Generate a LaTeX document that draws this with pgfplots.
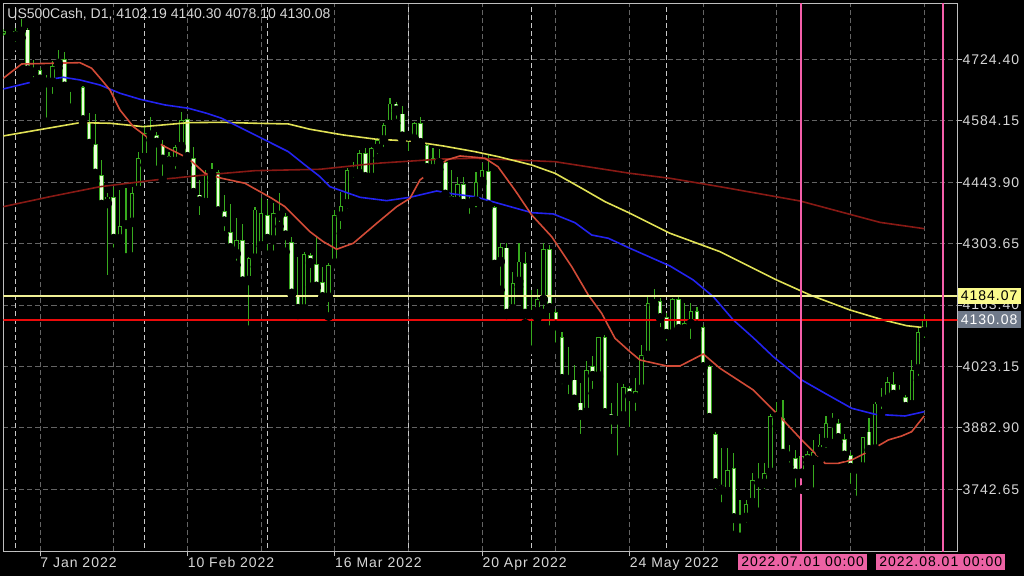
\documentclass[border=0pt]{standalone}
\usepackage{fontspec}
\setmainfont{Liberation Sans}
\newfontfamily\mtfont[LetterSpace=7]{Liberation Sans}
\usepackage{pgfplots}
\usepackage{pgfplotstable}
\pgfplotsset{compat=1.18}

\definecolor{cgreen}{RGB}{55,170,30}
\definecolor{cbody}{RGB}{236,255,220}
\definecolor{mared}{RGB}{210,75,55}
\definecolor{mablue}{RGB}{35,35,240}
\definecolor{mayellow}{RGB}{225,225,85}
\definecolor{madark}{RGB}{135,25,20}
\definecolor{hyellow}{RGB}{240,240,150}
\definecolor{hred}{RGB}{235,10,10}
\definecolor{pinkc}{RGB}{245,95,170}
\definecolor{pinkbox}{RGB}{236,98,164}
\definecolor{ylbox}{RGB}{250,250,140}
\definecolor{grbox}{RGB}{112,122,138}
\definecolor{labelgray}{RGB}{215,215,215}
\definecolor{framegray}{RGB}{190,190,190}
\definecolor{gridgray}{RGB}{100,100,100}
\definecolor{sepgray}{RGB}{200,200,200}

% daily bars, i = bar index (0 = 3 Jan 2022)
\pgfplotstableread{
i o h l c
-2 4782 4793 4779 4790
-1 4781 4785 4757 4776
0 4777 4797 4755 4790
1 4790 4816 4774 4793
2 4793 4797 4696 4699
3 4701 4723 4674 4697
4 4701 4705 4660 4678
5 4678 4690 4582 4671
6 4672 4720 4636 4710
7 4714 4746 4705 4726
8 4726 4742 4655 4662
9 4666 4668 4614 4661
10 4668 4674 4648 4662
11 4662 4664 4580 4585
12 4581 4602 4527 4531
13 4531 4600 4447 4463
14 4461 4495 4388 4392
15 4395 4420 4222 4412
16 4410 4433 4285 4314
17 4314 4426 4300 4344
18 4348 4430 4272 4352
19 4352 4434 4274 4420
20 4425 4514 4411 4499
21 4500 4575 4483 4557
22 4557 4593 4540 4553
23 4553 4558 4472 4534
24 4530 4540 4449 4495
25 4504 4514 4472 4491
26 4491 4529 4465 4524
27 4525 4604 4522 4586
28 4588 4591 4483 4501
29 4499 4525 4400 4419
30 4416 4449 4359 4400
31 4397 4472 4388 4463
32 4462 4489 4449 4470
33 4468 4473 4375 4377
34 4378 4415 4323 4354
35 4330 4394 4290 4293
36 4280 4362 4255 4313
37 4312 4348 4215 4217
38 4219 4274 4107 4272
39 4270 4387 4251 4382
40 4298 4408 4297 4374
41 4369 4403 4278 4314
42 4312 4397 4278 4374
43 4375 4420 4343 4367
44 4367 4374 4285 4322
45 4308 4320 4187 4189
46 4186 4274 4141 4154
47 4154 4284 4153 4280
48 4278 4282 4205 4259
49 4257 4320 4202 4205
50 4217 4251 4160 4181
51 4181 4260 4137 4255
52 4259 4380 4257 4369
53 4366 4422 4327 4390
54 4394 4476 4373 4472
55 4472 4490 4445 4466
56 4463 4518 4460 4511
57 4511 4522 4449 4455
58 4455 4525 4447 4522
59 4521 4545 4499 4540
60 4540 4580 4515 4575
61 4575 4636 4571 4624
62 4624 4628 4579 4607
63 4601 4617 4542 4548
64 4549 4560 4505 4555
65 4542 4582 4530 4579
66 4579 4593 4514 4533
67 4529 4531 4460 4476
68 4474 4522 4461 4499
69 4497 4520 4473 4487
70 4491 4496 4413 4415
71 4413 4472 4381 4400
72 4400 4457 4398 4441
73 4440 4457 4385 4394
74 4395 4415 4362 4402
75 4400 4468 4377 4445
76 4445 4488 4440 4472
77 4470 4506 4385 4390
78 4387 4390 4250 4255
79 4262 4305 4198 4297
80 4295 4305 4141 4143
81 4154 4240 4152 4214
82 4217 4305 4205 4263
83 4260 4285 4122 4143
84 4143 4198 4061 4147
85 4148 4200 4133 4177
86 4175 4306 4145 4291
87 4291 4300 4107 4156
88 4148 4154 4068 4116
89 4091 4103 3973 3994
90 3997 4068 3950 3992
91 3994 4027 3928 3947
92 3941 3985 3859 3912
93 3918 4036 3916 4015
94 4024 4046 3962 4001
95 4001 4091 3999 4091
96 4091 4095 3914 3916
97 3916 3939 3859 3901
98 3903 3985 3810 3901
99 3910 3984 3908 3977
100 3974 3978 3875 3955
101 3951 3996 3912 3968
102 3971 4072 3962 4050
103 4048 4183 4046 4168
104 4165 4201 4163 4176
105 4173 4179 4103 4133
106 4136 4145 4072 4097
107 4097 4180 4085 4177
108 4177 4187 4095 4108
109 4108 4168 4088 4122
110 4120 4168 4076 4151
111 4151 4160 4105 4116
112 4114 4118 4019 4021
113 4024 4026 3895 3905
114 3870 3874 3733 3756
115 3754 3836 3703 3741
116 3737 3836 3718 3787
117 3791 3825 3638 3676
118 3676 3718 3634 3675
119 3678 3718 3657 3709
120 3712 3779 3709 3764
121 3762 3802 3691 3758
122 3756 3802 3733 3781
123 3781 3915 3777 3910
124 3912 3943 3887 3907
125 3905 3947 3817 3823
126 3823 3844 3794 3817
127 3815 3832 3737 3778
128 3778 3824 3742 3819
129 3823 3830 3800 3809
130 3809 3855 3737 3828
131 3828 3870 3809 3845
132 3849 3909 3828 3894
133 3894 3916 3848 3899
134 3895 3903 3851 3859
135 3857 3870 3817 3819
136 3821 3828 3745 3791
137 3792 3798 3718 3789
138 3793 3863 3775 3862
139 3875 3905 3832 3832
140 3834 3943 3832 3939
141 3942 3973 3916 3948
142 3948 4000 3928 3988
143 3983 4011 3954 3958
144 3963 3981 3939 3958
145 3953 3958 3928 3930
146 3935 4038 3933 4015
147 4017 4110 3992 4103
148 4102.19 4140.30 4078.10 4130.08
}\ohlc

% a candle part is one upward error bar from its lower end
\pgfplotsset{
  candle/.style={only marks, mark=none,
    error bars/y dir=plus, error bars/y explicit, error bars/error mark=none,
    error bars/error bar style={#1}},
  sep/.style={sepgray, line width=0.5pt, dash pattern=on 2.5pt off 1.5pt},
}

\begin{document}
\begin{tikzpicture}
\path[use as bounding box, fill=black] (0,0) rectangle (512pt,288pt);
\begin{axis}[
    at={(1.75pt,12.25pt)}, anchor=south west,
    width=476.9pt, height=273.9pt, scale only axis,
    xmin=-1.954, xmax=153.39, ymin=3600.6, ymax=4851.8,
    axis line style={framegray, line width=0.5pt},
    xtick={4,28,52,76,100},
    xticklabels={7 Jan 2022, 10 Feb 2022, 16 Mar 2022, 20 Apr 2022, 24 May 2022},
    extra x ticks={16,40,64,88,112,124,136,148},
    extra x tick labels={},
    extra x tick style={major tick length=0pt, grid=major},
    ytick={3742.65,3882.90,4023.15,4163.40,4303.65,4443.90,4584.15,4724.40},
    yticklabels={3742.65,3882.90,4023.15,4163.40,4303.65,4443.90,4584.15,4724.40},
    xtick pos=bottom, ytick pos=right, yticklabel pos=right,
    tick align=outside, major tick length=2.5pt,
    tick style={framegray, line width=0.5pt},
    grid=major,
    major grid style={gridgray, line width=0.5pt, dash pattern=on 2.5pt off 1.5pt},
    ticklabel style={font=\mtfont\fontsize{7pt}{8pt}\selectfont, text=labelgray},
    xticklabel style={anchor=north west, inner sep=0pt, yshift=-0.3pt},
    yticklabel style={anchor=west, inner sep=0pt},
  ]

  % month separators
  \pgfplotsinvokeforeach{0,21,41,64,84,106}{
    \addplot[sep] coordinates {(#1,3500) (#1,4900)};
  }

  % wicks
  \addplot[candle={cgreen, line width=0.55pt}]
    table[x=i, y=l, y error expr={\thisrow{h}-\thisrow{l}}] {\ohlc};
  % body outline
  \addplot[candle={cgreen, line width=2.3pt}]
    table[x=i, y expr={min(\thisrow{o},\thisrow{c})-0.6},
          y error expr={max(abs(\thisrow{c}-\thisrow{o}),1.2)}] {\ohlc};
  % up bodies (hollow)
  \addplot[restrict expr to domain={\thisrow{c}-\thisrow{o}}{4.6:100000},
      candle={black, line width=1.3pt}]
    table[x=i, y expr={\thisrow{o}+2.28},
          y error expr={\thisrow{c}-\thisrow{o}-4.56}] {\ohlc};
  % down bodies (filled)
  \addplot[restrict expr to domain={\thisrow{o}-\thisrow{c}}{4.6:100000},
      candle={cbody, line width=1.3pt}]
    table[x=i, y expr={\thisrow{c}+2.28},
          y error expr={\thisrow{o}-\thisrow{c}-4.56}] {\ohlc};

  % moving averages
  \addplot[madark, line width=0.8pt] coordinates {
    (-1.99,4388.2) (5.62,4411.0) (13.76,4433.8) (22.72,4449.1) (30.86,4460.6)
    (39.0,4470.4) (49.59,4473.6) (58.83,4487.3) (69.67,4497.1) (74.84,4498.7)
    (87.87,4490.9) (100.08,4464.4) (106.6,4453.0) (114.74,4433.8) (127.77,4401.2)
    (140.8,4352.3) (148.0,4337.9)};
  \addplot[mayellow, line width=0.8pt] coordinates {
    (-1.99,4549.7) (10.5,4580.0) (15.39,4578.7) (20.81,4570.9) (28.14,4580.0)
    (33.58,4580.9) (39.0,4578.7) (44.43,4577.1) (47.96,4565.0) (53.39,4551.9)
    (58.83,4542.1) (64.25,4538.2) (69.67,4526.8) (74.84,4513.8) (78.63,4502.4)
    (84.07,4483.4) (87.87,4464.4) (92.22,4430.2) (96.01,4399.6) (100.08,4373.1)
    (106.6,4327.4) (114.74,4285.4) (123.97,4220.7) (129.4,4186.5) (135.91,4152.2)
    (141.34,4129.4) (145.15,4116.3) (148.0,4111.8)};
  \addplot[mablue, line width=0.8pt] coordinates {
    (-1.99,4657.0) (2.9,4673.7) (7.79,4683.7) (10.5,4677.6) (13.76,4666.1)
    (17.02,4647.2) (20.28,4633.5) (24.35,4620.5) (28.14,4613.0) (31.14,4601.5)
    (33.58,4590.1) (36.84,4567.2) (40.64,4540.5) (44.43,4513.8) (47.15,4483.4)
    (49.59,4456.7) (51.22,4433.8) (56.11,4409.6) (60.46,4401.9) (64.25,4409.6)
    (68.6,4424.0) (71.3,4417.2) (74.84,4411.0) (78.63,4395.9) (84.07,4374.5)
    (87.59,4371.5) (91.12,4351.6) (93.84,4323.5) (96.55,4316.0) (100.08,4293.1)
    (106.6,4252.7) (110.39,4220.7) (113.65,4182.6) (116.91,4129.4) (120.16,4088.8)
    (123.42,4045.5) (128.05,3992.3) (131.84,3961.9) (136.19,3927.7) (139.98,3914.0)
    (144.87,3910.1) (148.0,3919.9)};
  \addplot[mared, line width=0.8pt] coordinates {
    (-1.99,4681.5) (1.01,4714.1) (10.5,4717.1) (12.41,4704.3) (14.04,4677.6)
    (15.39,4654.7) (17.02,4609.0) (19.19,4570.9) (21.37,4548.0) (24.35,4525.2)
    (28.14,4498.7) (30.86,4464.4) (33.58,4453.0) (37.38,4441.6) (41.73,4407.4)
    (43.89,4388.2) (46.06,4357.8) (47.96,4331.0) (50.13,4308.2) (52.31,4290.9)
    (55.02,4304.6) (58.83,4350.2) (62.08,4388.2) (64.25,4407.3) (65.88,4449.2)
    (68.05,4472.0) (70.23,4494.8) (72.39,4504.0) (74.84,4501.0) (76.47,4498.7)
    (78.58,4479.5) (81.35,4425.8) (84.07,4369.2) (87.33,4319.6) (90.59,4251.1)
    (93.29,4186.5) (95.47,4144.6) (97.64,4087.6) (100.08,4056.9) (101.71,4038.0)
    (106.06,4024.3) (108.22,4024.3) (112.02,4051.7) (114.74,4019.0) (120.16,3969.5)
    (124.51,3908.5) (128.05,3855.3) (131.84,3802.0) (134.0,3802.0) (136.19,3809.6)
    (138.89,3828.6) (142.15,3855.3) (144.33,3864.4) (145.96,3874.2) (148.0,3910.1)};

  % horizontal price lines
  \addplot[hyellow, line width=1pt] coordinates {(-5,4184.07) (160,4184.07)};
  \addplot[hred, line width=1pt] coordinates {(-5,4130.08) (160,4130.08)};
  % vertical lines at 1 Jul and 1 Aug
  \addplot[pinkc, line width=1pt] coordinates {(128,3500) (128,4900)};
  \addplot[pinkc, line width=1pt] coordinates {(151.05,3500) (151.05,4900)};

  \coordinate (yl) at (axis cs:153.39,4184.07);
  \coordinate (rl) at (axis cs:153.39,4130.08);
  \coordinate (jul) at (axis cs:128.2,3600.6);
  \coordinate (aug) at (axis cs:150.7,3600.6);
\end{axis}

\tikzset{lab/.style={font=\mtfont\fontsize{7pt}{8pt}\selectfont, inner ysep=0pt, inner xsep=1.6pt}}
\node[lab, fill=ylbox, text=black, anchor=west, minimum height=7.9pt] at (yl) {4184.07};
\node[lab, fill=grbox, text=white, anchor=west, minimum height=8.2pt] at (rl) {4130.08};
\node[lab, fill=pinkbox, text=black, anchor=north, minimum height=8.3pt, yshift=-0.9pt] at (jul) {2022.07.01 00:00};
\node[lab, fill=pinkbox, text=black, anchor=north, minimum height=8.3pt, yshift=-0.9pt] at (aug) {2022.08.01 00:00};

\node[anchor=base west, inner sep=0pt, text=labelgray, font=\fontsize{7pt}{8pt}\selectfont]
  at (3.5pt,278.5pt) {US500Cash, D1, 4102.19 4140.30 4078.10 4130.08};
\end{tikzpicture}
\end{document}
